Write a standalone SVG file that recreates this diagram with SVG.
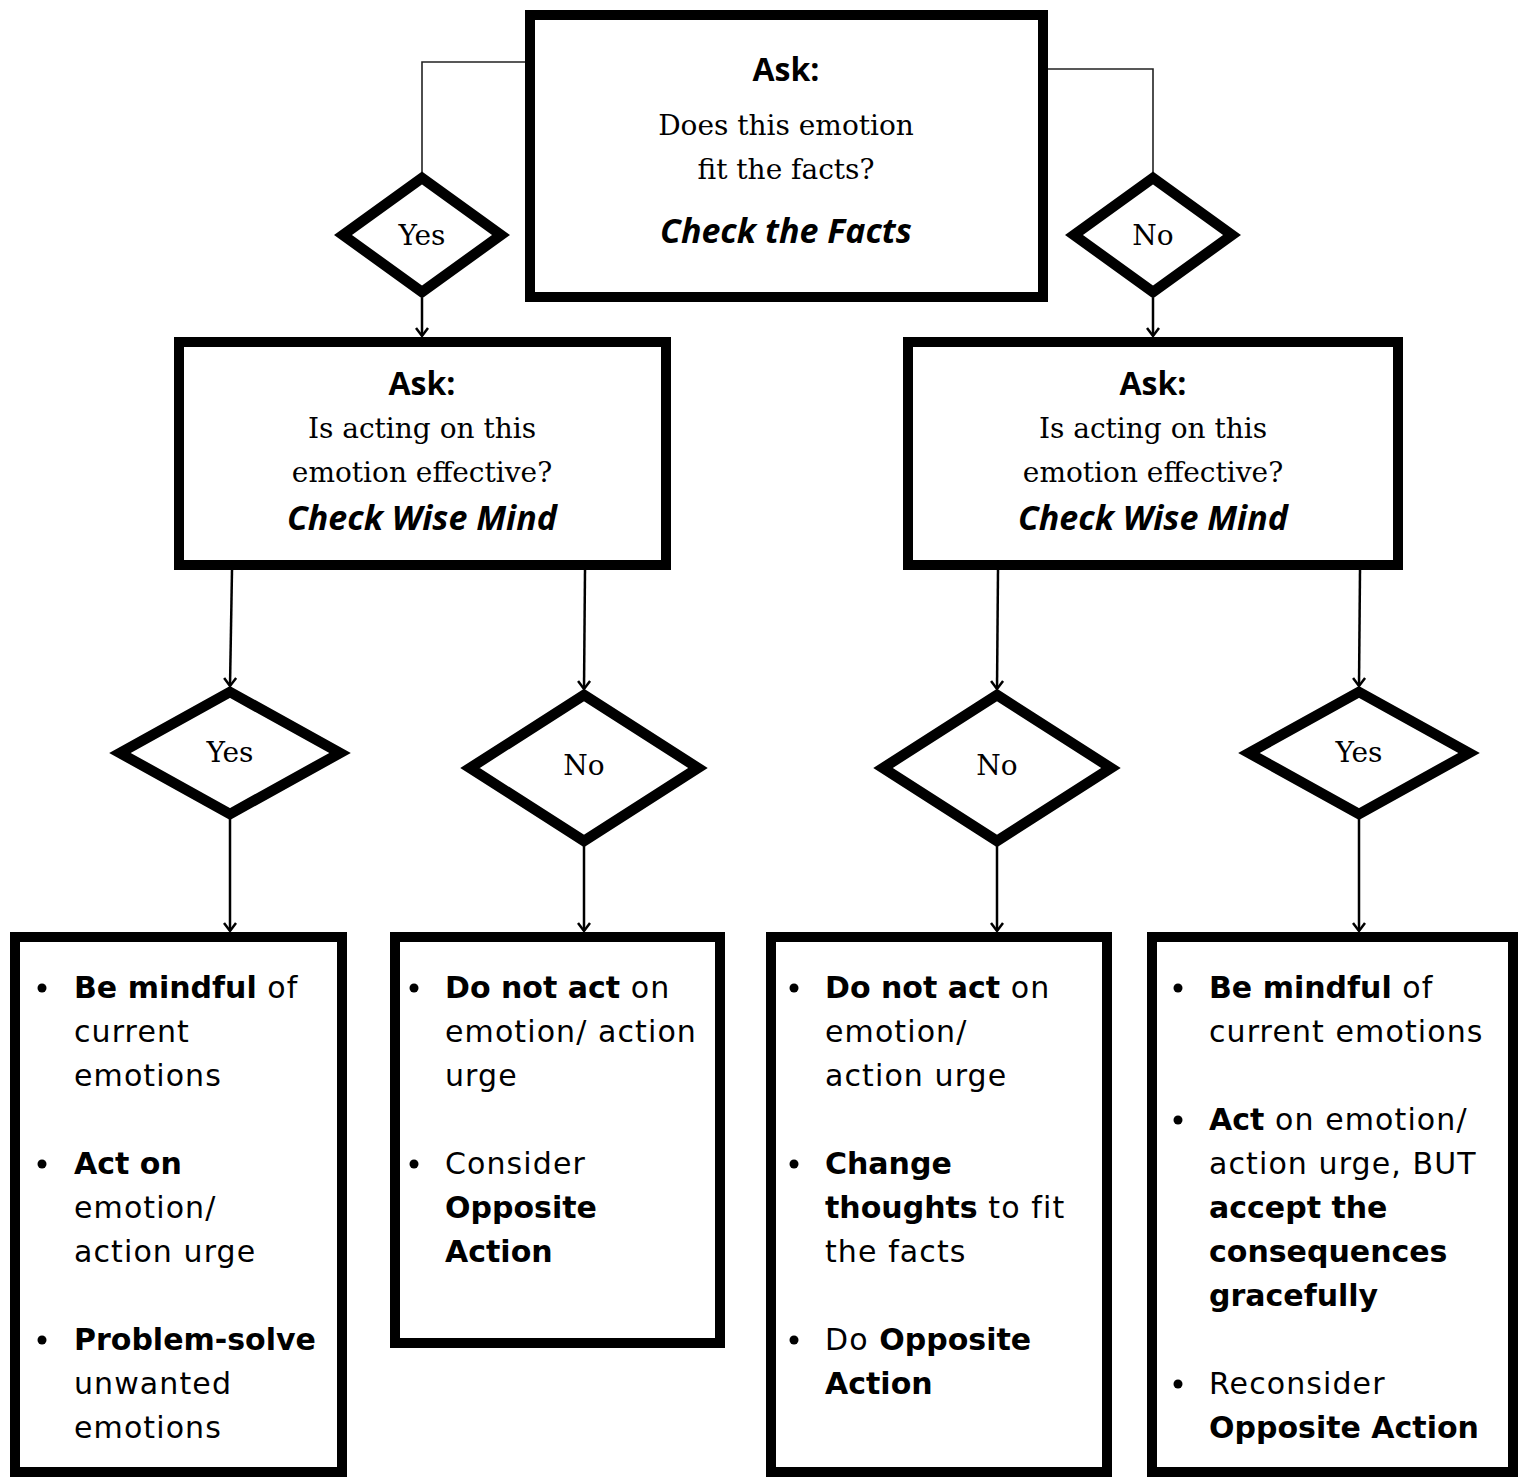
<svg xmlns="http://www.w3.org/2000/svg" width="1520" height="1477" viewBox="0 0 1520 1477">
<style>
.box{fill:#fff;stroke:#000;stroke-width:10;stroke-linejoin:miter}
.dia{fill:#fff;stroke:#000;stroke-width:10.5;stroke-linejoin:miter;stroke-miterlimit:10}
.conn{fill:none;stroke:#000;stroke-width:2.5}
.thin{fill:none;stroke:#222;stroke-width:1.6}
.ask{font-family:"Open Sans","DejaVu Sans",sans-serif;font-weight:700;font-size:32px;text-anchor:middle;fill:#000}
.q{font-family:"DejaVu Serif","Liberation Serif",serif;font-size:28px;text-anchor:middle;fill:#000}
.q2{font-family:"DejaVu Serif","Liberation Serif",serif;font-size:28px;text-anchor:middle;fill:#000}
.chk{font-family:"Open Sans","DejaVu Sans",sans-serif;font-weight:700;font-style:italic;font-size:34px;text-anchor:middle;fill:#000}
.lbl{font-family:"DejaVu Serif","Liberation Serif",serif;font-size:28px;text-anchor:middle;fill:#000}
.li{font-family:"DejaVu Sans","Liberation Sans",sans-serif;font-size:30px;fill:#000}
.b{font-weight:700;letter-spacing:0}
.r{font-weight:400;letter-spacing:1.1px}
.dot{fill:#000}
</style>
<defs>
<marker id="arr" markerUnits="userSpaceOnUse" viewBox="0 0 10 14" refX="9" refY="7" markerWidth="10" markerHeight="14" orient="auto" overflow="visible">
<path d="M1,1 L9,7 L1,13" fill="none" stroke="#000" stroke-width="2.5"/>
</marker>
</defs>

<g id="connectors">
<polyline class="thin" points="525,62 422,62 422,178"/>
<polyline class="thin" points="1048,69 1153,69 1153,178"/>
<line class="conn" x1="422" y1="298" x2="422" y2="336" marker-end="url(#arr)"/>
<line class="conn" x1="1153" y1="298" x2="1153" y2="336" marker-end="url(#arr)"/>
<line class="conn" x1="232" y1="570" x2="230" y2="686" marker-end="url(#arr)"/>
<line class="conn" x1="585" y1="570" x2="584" y2="689" marker-end="url(#arr)"/>
<line class="conn" x1="998" y1="570" x2="997" y2="689" marker-end="url(#arr)"/>
<line class="conn" x1="1360" y1="570" x2="1359" y2="686" marker-end="url(#arr)"/>
<line class="conn" x1="230" y1="818" x2="230" y2="931" marker-end="url(#arr)"/>
<line class="conn" x1="584" y1="845" x2="584" y2="931" marker-end="url(#arr)"/>
<line class="conn" x1="997" y1="845" x2="997" y2="931" marker-end="url(#arr)"/>
<line class="conn" x1="1359" y1="818" x2="1359" y2="931" marker-end="url(#arr)"/>
</g>

<g id="top-box">
<rect class="box" x="530" y="15" width="513" height="282"/>
<text class="ask" x="786" y="81">Ask:</text>
<text class="q" x="786" y="135">Does this emotion</text>
<text class="q" x="786" y="179">fit the facts?</text>
<text class="chk" x="786" y="243">Check the Facts</text>
</g>

<g id="d-top-yes">
<polygon class="dia" points="422,178 501,235 422,292 343,235"/>
<text class="lbl" x="422" y="245">Yes</text>
</g>
<g id="d-top-no">
<polygon class="dia" points="1153,178 1232,235 1153,292 1074,235"/>
<text class="lbl" x="1153" y="245">No</text>
</g>

<g id="mid-left">
<rect class="box" x="179" y="342" width="487" height="223"/>
<text class="ask" x="422" y="395">Ask:</text>
<text class="q2" x="422" y="438">Is acting on this</text>
<text class="q2" x="422" y="482">emotion effective?</text>
<text class="chk" x="422" y="530">Check Wise Mind</text>
</g>
<g id="mid-right">
<rect class="box" x="908" y="342" width="490" height="223"/>
<text class="ask" x="1153" y="395">Ask:</text>
<text class="q2" x="1153" y="438">Is acting on this</text>
<text class="q2" x="1153" y="482">emotion effective?</text>
<text class="chk" x="1153" y="530">Check Wise Mind</text>
</g>

<g id="d-yes-1">
<polygon class="dia" points="230,692 340,753 230,814 120,753"/>
<text class="lbl" x="230" y="762">Yes</text>
</g>
<g id="d-no-1">
<polygon class="dia" points="584,695 698,768 584,841 470,768"/>
<text class="lbl" x="584" y="775">No</text>
</g>
<g id="d-no-2">
<polygon class="dia" points="997,695 1111,768 997,841 883,768"/>
<text class="lbl" x="997" y="775">No</text>
</g>
<g id="d-yes-2">
<polygon class="dia" points="1359,692 1469,753 1359,814 1249,753"/>
<text class="lbl" x="1359" y="762">Yes</text>
</g>

<g id="out-1">
<rect class="box" x="15" y="937" width="327" height="535"/>
<circle class="dot" cx="42" cy="988" r="4.5"/>
<circle class="dot" cx="42" cy="1164" r="4.5"/>
<circle class="dot" cx="42" cy="1340" r="4.5"/>
<text class="li" x="74" y="998"><tspan class="b">Be mindful</tspan><tspan class="r"> of</tspan></text>
<text class="li r" x="74" y="1042">current</text>
<text class="li r" x="74" y="1086">emotions</text>
<text class="li b" x="74" y="1174">Act on</text>
<text class="li r" x="74" y="1218">emotion/</text>
<text class="li r" x="74" y="1262">action urge</text>
<text class="li b" x="74" y="1350">Problem-solve</text>
<text class="li r" x="74" y="1394">unwanted</text>
<text class="li r" x="74" y="1438">emotions</text>
</g>

<g id="out-2">
<rect class="box" x="395" y="937" width="325" height="406"/>
<circle class="dot" cx="414" cy="988" r="4.5"/>
<circle class="dot" cx="414" cy="1164" r="4.5"/>
<text class="li" x="445" y="998"><tspan class="b">Do not act</tspan><tspan class="r"> on</tspan></text>
<text class="li r" x="445" y="1042">emotion/ action</text>
<text class="li r" x="445" y="1086">urge</text>
<text class="li r" x="445" y="1174">Consider</text>
<text class="li b" x="445" y="1218">Opposite</text>
<text class="li b" x="445" y="1262">Action</text>
</g>

<g id="out-3">
<rect class="box" x="771" y="937" width="336" height="535"/>
<circle class="dot" cx="794" cy="988" r="4.5"/>
<circle class="dot" cx="794" cy="1164" r="4.5"/>
<circle class="dot" cx="794" cy="1340" r="4.5"/>
<text class="li" x="825" y="998"><tspan class="b">Do not act</tspan><tspan class="r"> on</tspan></text>
<text class="li r" x="825" y="1042">emotion/</text>
<text class="li r" x="825" y="1086">action urge</text>
<text class="li b" x="825" y="1174">Change</text>
<text class="li" x="825" y="1218"><tspan class="b">thoughts</tspan><tspan class="r"> to fit</tspan></text>
<text class="li r" x="825" y="1262">the facts</text>
<text class="li" x="825" y="1350"><tspan class="r">Do </tspan><tspan class="b">Opposite</tspan></text>
<text class="li b" x="825" y="1394">Action</text>
</g>

<g id="out-4">
<rect class="box" x="1152" y="937" width="361" height="535"/>
<circle class="dot" cx="1178" cy="988" r="4.5"/>
<circle class="dot" cx="1178" cy="1120" r="4.5"/>
<circle class="dot" cx="1178" cy="1384" r="4.5"/>
<text class="li" x="1209" y="998"><tspan class="b">Be mindful</tspan><tspan class="r"> of</tspan></text>
<text class="li r" x="1209" y="1042">current emotions</text>
<text class="li" x="1209" y="1130"><tspan class="b">Act</tspan><tspan class="r"> on emotion/</tspan></text>
<text class="li r" x="1209" y="1174">action urge, BUT</text>
<text class="li b" x="1209" y="1218">accept the</text>
<text class="li b" x="1209" y="1262">consequences</text>
<text class="li b" x="1209" y="1306">gracefully</text>
<text class="li r" x="1209" y="1394">Reconsider</text>
<text class="li b" x="1209" y="1438">Opposite Action</text>
</g>
</svg>
